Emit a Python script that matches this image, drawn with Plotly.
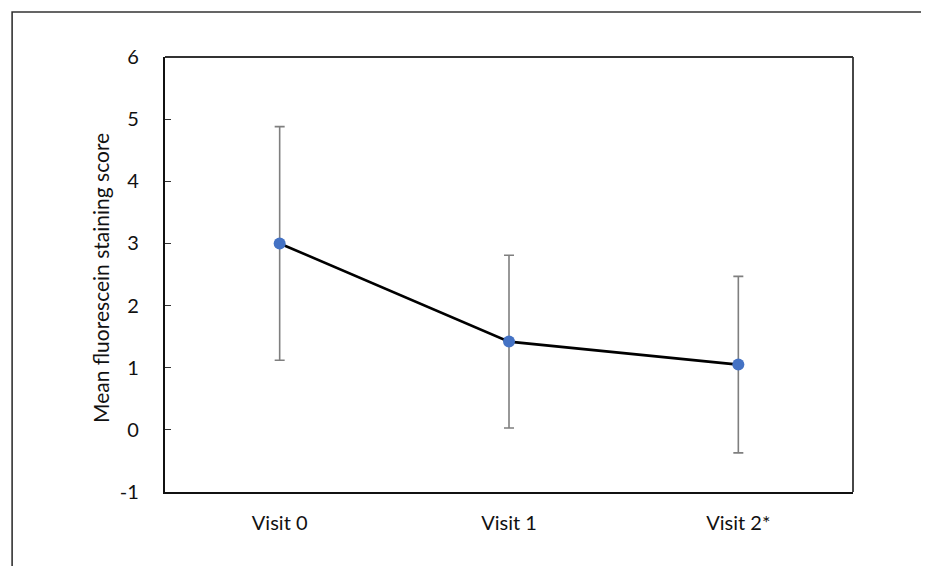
import plotly.graph_objects as go

visits = ["Visit 0", "Visit 1", "Visit 2*"]
mean_score = [3.0, 1.42, 1.05]
sd_score = [1.88, 1.39, 1.42]
y_ticks = [-1, 0, 1, 2, 3, 4, 5, 6]
y_tick_text = ["-1", "0", "1", "2", "3", "4", "5", "6"]
y_title = "Mean fluorescein staining score"

W, H = 929, 566
L, R, T, B = 157, 845.5, 49, 484
pw, ph = R - L, B - T

fig = go.Figure()
fig.add_trace(go.Scatter(
    x=visits, y=mean_score,
    mode="lines+markers",
    line=dict(color="black", width=2.6),
    marker=dict(color="#4472C4", size=12),
    error_y=dict(type="data", array=sd_score, visible=True,
                 color="#7f7f7f", thickness=1.6, width=5),
    showlegend=False,
))

font_family = "Lato, 'Open Sans', sans-serif"

fig.update_layout(
    width=W, height=H,
    margin=dict(l=L, r=W - R, t=T, b=H - B),
    paper_bgcolor="white", plot_bgcolor="white",
    font=dict(family=font_family, size=20, color="#111"),
    xaxis=dict(
        type="category", range=[-0.5, 2.5],
        showline=True, linecolor="#111", linewidth=2.2, mirror=False,
        showgrid=False, ticks="", ticklabelstandoff=12,
        tickfont=dict(size=20),
    ),
    yaxis=dict(
        range=[-1, 6], tickvals=y_ticks, ticktext=y_tick_text,
        showline=True, linecolor="#111", linewidth=2.2,
        showgrid=False, zeroline=False,
        ticks="inside", ticklen=6, tickwidth=1.2, tickcolor="#333",
        ticklabelstandoff=20,
        tickfont=dict(size=20),
    ),
    annotations=[dict(
        text=y_title, textangle=-90, showarrow=False,
        xref="paper", yref="paper",
        x=(92 - L) / pw, y=(B - 270) / ph,
        xanchor="center", yanchor="middle",
        font=dict(size=21, color="#111"),
    )],
    shapes=[
        dict(type="line", xref="paper", yref="paper", x0=0, x1=1, y0=1, y1=1,
             line=dict(color="#333", width=1.8)),
        dict(type="line", xref="paper", yref="paper", x0=1, x1=1, y0=0, y1=1,
             line=dict(color="#333", width=1.8)),
        dict(type="rect", xref="paper", yref="paper",
             x0=(4 - L) / pw, x1=(926 - L) / pw,
             y0=(B - 575) / ph, y1=(B - 4) / ph,
             line=dict(color="#333", width=1.6)),
    ],
)

fig.write_html("out.html")
